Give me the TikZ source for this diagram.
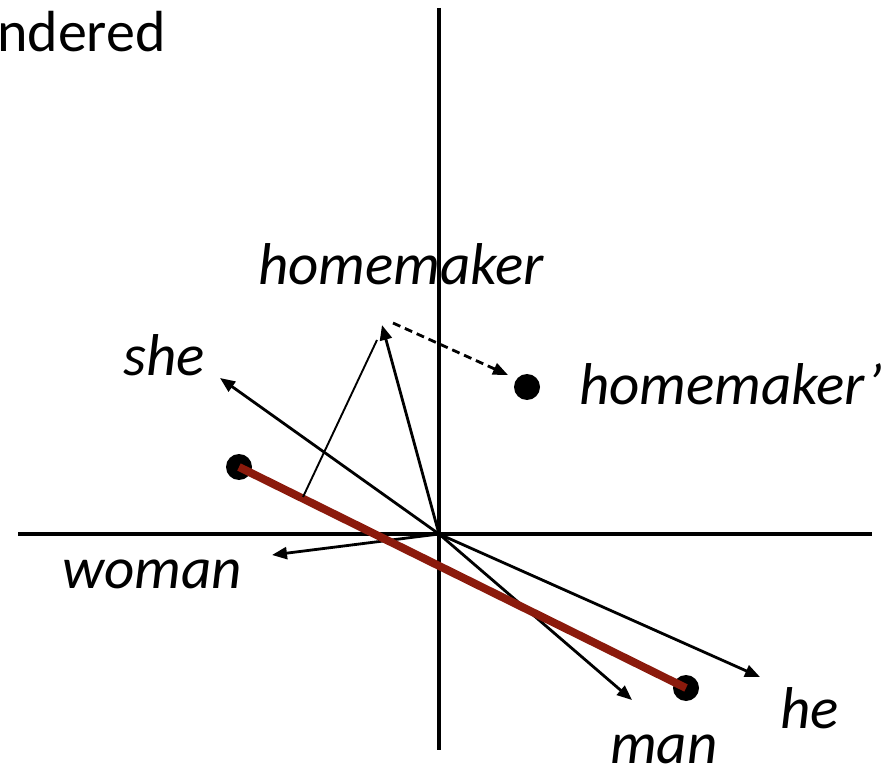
\documentclass[tikz,border=0pt]{standalone}
\usepackage{fontspec}
\setmainfont{Carlito}
\usetikzlibrary{arrows.meta}
\definecolor{darkred}{HTML}{8B1A0C}
\begin{document}
\begin{tikzpicture}[x=1pt,y=-1pt,
  axis/.style={line width=4.2pt},
  vec/.style={line width=2.8pt,-{Triangle[length=15pt,width=12pt]}},
  thinline/.style={line width=1.9pt},
  dot/.style={circle,fill=black,inner sep=0pt,minimum size=26pt},
  lbl/.style={font=\fontsize{59}{64}\selectfont\itshape,anchor=base west,inner sep=0pt}]
\useasboundingbox (0,0) rectangle (892,767);
\clip (0,0) rectangle (892,767);
% axes
\coordinate (O) at (439,534);
\coordinate (vt) at (439,8);
\coordinate (vb) at (439,750);
\coordinate (hl) at (18,534);
\coordinate (hr) at (872,534);
\draw[axis] (vt) -- (vb);
\draw[axis] (hl) -- (hr);
% tips
\coordinate (sheT) at (220,378);
\coordinate (womanT) at (272,555);
\coordinate (heT) at (760,677);
\coordinate (manT) at (632,700);
\coordinate (homeT) at (382,325);
\draw[vec] (O) -- (sheT);
\draw[vec] (O) -- (womanT);
\draw[vec] (O) -- (heT);
\draw[vec] (O) -- (manT);
\draw[vec] (O) -- (homeT);
% dots and red line
\node[dot] (w) at (239,467) {};
\node[dot] (m) at (686,688) {};
\node[dot] (hp) at (527,387) {};
\draw[line width=8pt,darkred] (w.center) -- (m.center);
% projection line
\coordinate (pA) at (377,340);
\coordinate (pB) at (303,497);
\draw[thinline] (pA) -- (pB);
% dashed move
\coordinate (dS) at (393,323);
\coordinate (dE) at (508,375);
\draw[line width=2.8pt,dash pattern=on 8pt off 5pt,-{Triangle[length=15pt,width=12pt]}] (dS) -- (dE);
% labels
\node[font=\fontsize{58}{64}\selectfont,anchor=base west,inner sep=0pt] (title) at (-3,52) {ndered};
\node[lbl] (lhome) at (258,285) {homemaker};
\node[lbl] (lshe) at (123,376) {she};
\node[lbl] (lhp) at (579,405) {homemaker’};
\node[lbl] (lwoman) at (62,588) {woman};
\node[lbl] (lhe) at (780,728) {he};
\node[lbl] (lman) at (610,763) {man};
\end{tikzpicture}
\end{document}
